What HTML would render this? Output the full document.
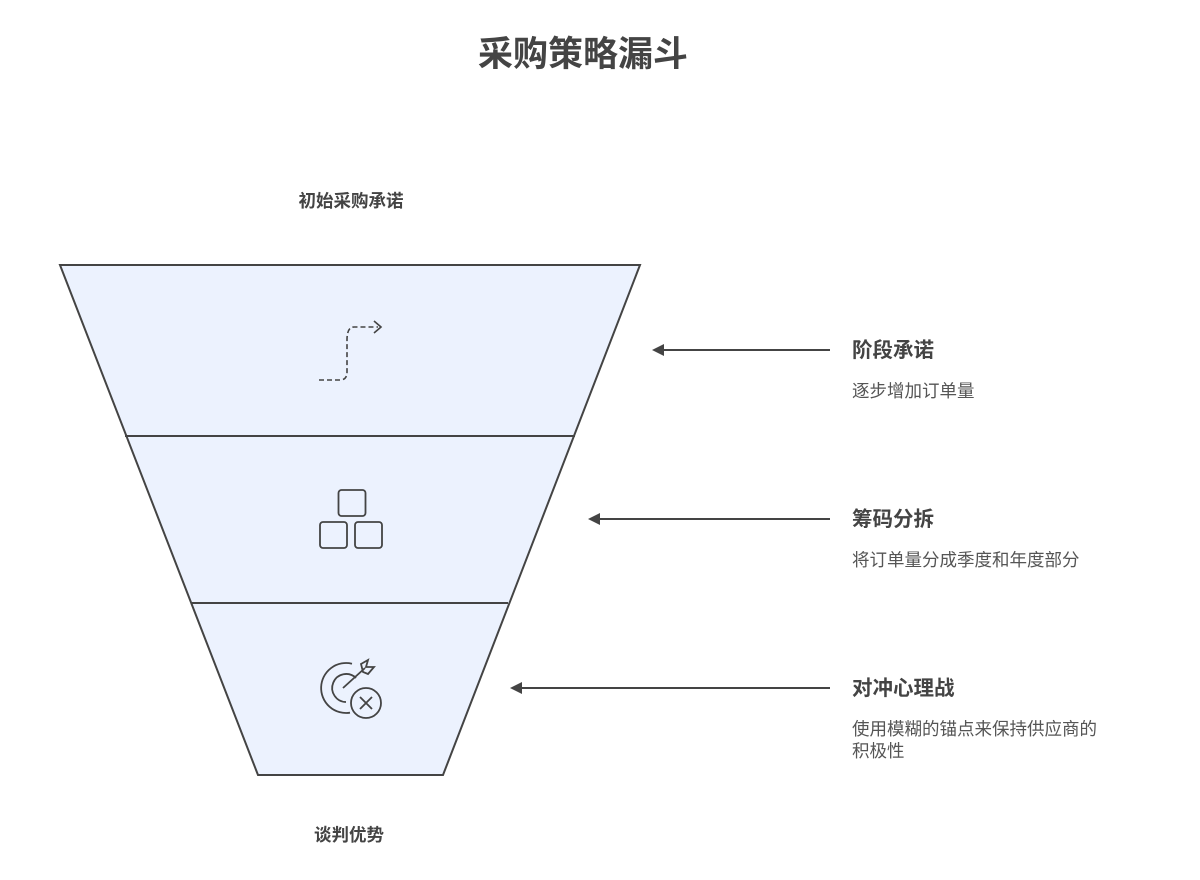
<!DOCTYPE html>
<html><head><meta charset="utf-8"><style>
html,body{margin:0;padding:0;background:#fff;}
svg text{font-family:"Liberation Sans","Noto Sans CJK SC",sans-serif;}
</style></head><body>
<svg width="1200" height="875" viewBox="0 0 1200 875" xmlns="http://www.w3.org/2000/svg">
<rect width="1200" height="875" fill="#fff"/>
<text x="583" y="66" font-size="35" font-weight="bold" fill="#444" text-anchor="middle">采购策略漏斗</text>
<text x="351" y="207" font-size="17.5" font-weight="bold" fill="#444" text-anchor="middle">初始采购承诺</text>
<text x="349" y="841" font-size="17.5" font-weight="bold" fill="#444" text-anchor="middle">谈判优势</text>
<polygon points="60,265 640,265 443,775 258,775" fill="#ecf2fe" stroke="#444" stroke-width="2"/>
<line x1="125" y1="436" x2="575" y2="436" stroke="#444" stroke-width="2"/>
<line x1="192" y1="603" x2="508" y2="603" stroke="#444" stroke-width="2"/>
<g fill="none" stroke="#444" stroke-width="1.6" stroke-dasharray="5,3">
<path d="M319,380 H340 Q347,380 347,372 V340 Q347,327 354,327 H378"/>
</g>
<path d="M374,321 L381,327 L374,333" fill="none" stroke="#444" stroke-width="1.6"/>
<g fill="none" stroke="#444" stroke-width="1.8">
<rect x="338.5" y="490" width="27" height="26" rx="3"/>
<rect x="320" y="522" width="27" height="26" rx="3"/>
<rect x="355" y="522" width="27" height="26" rx="3"/>
</g>
<g fill="none" stroke="#444" stroke-width="1.8">
<path d="M352,663.7 A25,25 0 1,0 350,712.7"/>
<path d="M356,678 A14,14 0 1,0 346,702"/>
<circle cx="366" cy="703" r="15" fill="#ecf2fe"/>
<path d="M360,697 L372,709 M372,697 L360,709"/>
<path d="M343,688 L365,668"/>
<path d="M361,664 L368,660 L366,667 L374,667 L368,674 L363,672 Z"/>
</g>
<g stroke="#444" stroke-width="2">
<line x1="830" y1="350" x2="662" y2="350"/>
<line x1="830" y1="519" x2="598" y2="519"/>
<line x1="830" y1="688" x2="520" y2="688"/>
</g>
<g fill="#444">
<polygon points="652,350 664,344 664,356"/>
<polygon points="588,519 600,513 600,525"/>
<polygon points="510,688 522,682 522,694"/>
</g>
<g fill="#444">
<text x="852" y="357" font-size="20.5" font-weight="bold">阶段承诺</text>
<text x="852" y="397" font-size="17.5" fill="#555">逐步增加订单量</text>
<text x="852" y="526" font-size="20.5" font-weight="bold">筹码分拆</text>
<text x="852" y="566" font-size="17.5" fill="#555">将订单量分成季度和年度部分</text>
<text x="852" y="695" font-size="20.5" font-weight="bold">对冲心理战</text>
<text x="852" y="735" font-size="17.5" fill="#555">使用模糊的锚点来保持供应商的</text>
<text x="852" y="757" font-size="17.5" fill="#555">积极性</text>
</g>
</svg>
</body></html>
